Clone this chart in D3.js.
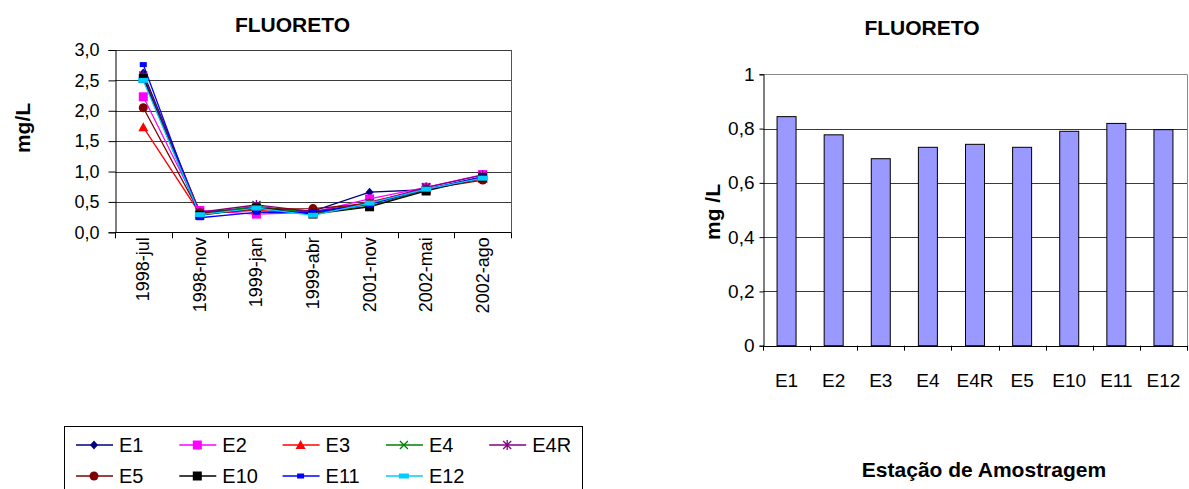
<!DOCTYPE html>
<html>
<head>
<meta charset="utf-8">
<script src="https://cdn.jsdelivr.net/npm/d3@7"></script>
<style>
  html, body { margin: 0; padding: 0; background: #fff; }
  svg { display: block; font-family: "Liberation Sans", Arial, sans-serif; }
</style>
</head>
<body>
<svg id="chart" width="1189" height="489"></svg>
<script>
// Sampling campaigns (left chart categories)
const campaigns = ["1998-jul", "1998-nov", "1999-jan", "1999-abr", "2001-nov", "2002-mai", "2002-ago"];

// Fluoride concentration (mg/L) per station and campaign
const E1  = [2.62, 0.33, 0.40, 0.35, 0.66, 0.70, 0.91];
const E2  = [2.23, 0.36, 0.30, 0.33, 0.55, 0.74, 0.95];
const E3  = [1.73, 0.31, 0.36, 0.31, 0.50, 0.71, 0.88];
const E4  = [2.55, 0.30, 0.43, 0.32, 0.43, 0.70, 0.90];
const E4R = [2.58, 0.33, 0.45, 0.34, 0.48, 0.74, 0.94];
const E5  = [2.05, 0.32, 0.38, 0.39, 0.47, 0.71, 0.86];
const E10 = [2.53, 0.28, 0.40, 0.30, 0.42, 0.68, 0.90];
const E11 = [2.76, 0.24, 0.33, 0.33, 0.46, 0.71, 0.91];
const E12 = [2.50, 0.29, 0.40, 0.28, 0.48, 0.71, 0.89];

// Stations (right chart categories) and their mean concentration (mg/L)
const stations = ["E1", "E2", "E3", "E4", "E4R", "E5", "E10", "E11", "E12"];
const meanValues = [0.844, 0.777, 0.689, 0.731, 0.742, 0.731, 0.790, 0.819, 0.796];

// Axis ticks
const lineTicks = [0, 0.5, 1.0, 1.5, 2.0, 2.5, 3.0];
const barTicks = [0, 0.2, 0.4, 0.6, 0.8, 1];

// Series styling
const seriesList = [
  { name: "E1",  values: E1,  color: "#000080", marker: "diamond" },
  { name: "E2",  values: E2,  color: "#FF00FF", marker: "square" },
  { name: "E3",  values: E3,  color: "#FF0000", marker: "triangle" },
  { name: "E4",  values: E4,  color: "#008000", marker: "cross" },
  { name: "E4R", values: E4R, color: "#800080", marker: "asterisk" },
  { name: "E5",  values: E5,  color: "#800000", marker: "circle" },
  { name: "E10", values: E10, color: "#000000", marker: "square" },
  { name: "E11", values: E11, color: "#0000FF", marker: "smallrect" },
  { name: "E12", values: E12, color: "#00CCFF", marker: "widerect" }
];

const comma = s => String(s).replace(".", ",");
const svg = d3.select("#chart");

// Draws a marker of the given kind centred at (0,0)
function drawMarker(g, kind, color) {
  switch (kind) {
    case "diamond":
      g.append("path").attr("d", "M0,-4.5L4,0L0,4.5L-4,0Z").attr("fill", color);
      break;
    case "square":
      g.append("rect").attr("x", -4.5).attr("y", -4.5).attr("width", 9).attr("height", 9).attr("fill", color);
      break;
    case "triangle":
      g.append("path").attr("d", "M0,-5L5,4L-5,4Z").attr("fill", color);
      break;
    case "cross":
      g.append("path").attr("d", "M-4,-4L4,4M-4,4L4,-4").attr("stroke", color).attr("stroke-width", 1.3).attr("fill", "none");
      break;
    case "asterisk":
      g.append("path").attr("d", "M-4,-4L4,4M-4,4L4,-4M0,-5L0,5").attr("stroke", color).attr("stroke-width", 1.3).attr("fill", "none");
      break;
    case "circle":
      g.append("circle").attr("r", 4.5).attr("fill", color);
      break;
    case "smallrect":
      g.append("rect").attr("x", -3.5).attr("y", -2.5).attr("width", 7).attr("height", 5).attr("fill", color);
      break;
    case "widerect":
      g.append("rect").attr("x", -5).attr("y", -2.5).attr("width", 10).attr("height", 5).attr("fill", color);
      break;
  }
}

// ---------- Left: line chart by campaign ----------
{
  const L = { left: 115, right: 511, top: 50, bottom: 232.3 };
  const x = d3.scaleBand().domain(campaigns).range([L.left, L.right]);
  const y = d3.scaleLinear().domain([0, 3]).range([L.bottom, L.top]);
  const g = svg.append("g");

  // Gridlines
  g.append("g").selectAll("line").data(lineTicks.filter(t => t > 0)).join("line")
    .attr("x1", L.left).attr("x2", L.right)
    .attr("y1", d => Math.round(y(d)) + 0.5).attr("y2", d => Math.round(y(d)) + 0.5)
    .attr("stroke", "#3a3a3a").attr("stroke-width", 1);
  // Right border
  g.append("line").attr("x1", L.right + 0.5).attr("x2", L.right + 0.5)
    .attr("y1", L.top).attr("y2", L.bottom).attr("stroke", "#555");

  // Y axis
  const yAxis = g.append("g").attr("transform", `translate(${L.left + 0.5},0)`)
    .call(d3.axisLeft(y).tickValues(lineTicks).tickSize(7).tickPadding(9)
      .tickFormat(d => comma(d3.format(".1f")(d))));
  yAxis.select(".domain").attr("stroke", "#000");
  yAxis.selectAll("text").attr("font-size", 18).attr("fill", "#000")
    .attr("font-family", "Liberation Sans, Arial, sans-serif");

  // X axis: ticks between categories, rotated labels
  const xb = g.append("g");
  xb.append("line").attr("x1", L.left).attr("x2", L.right)
    .attr("y1", Math.round(L.bottom) + 0.5).attr("y2", Math.round(L.bottom) + 0.5).attr("stroke", "#000");
  xb.selectAll("line.tk").data(d3.range(campaigns.length + 1)).join("line").attr("class", "tk")
    .attr("x1", i => Math.round(L.left + i * x.step()) + 0.5)
    .attr("x2", i => Math.round(L.left + i * x.step()) + 0.5)
    .attr("y1", L.bottom).attr("y2", L.bottom + 6).attr("stroke", "#000");
  xb.selectAll("text").data(campaigns).join("text")
    .attr("transform", d => `translate(${x(d) + x.bandwidth() / 2},${L.bottom + 5}) rotate(-90)`)
    .attr("text-anchor", "end").attr("dominant-baseline", "central")
    .attr("font-size", 18).text(d => d);

  // Lines and markers
  const line = d3.line().x((d, i) => x(campaigns[i]) + x.bandwidth() / 2).y(d => y(d));
  seriesList.forEach(s => {
    g.append("path").datum(s.values).attr("d", line)
      .attr("fill", "none").attr("stroke", s.color).attr("stroke-width", 1.3);
  });
  seriesList.forEach(s => {
    s.values.forEach((v, i) => {
      const m = g.append("g").attr("transform", `translate(${x(campaigns[i]) + x.bandwidth() / 2},${y(v)})`);
      drawMarker(m, s.marker, s.color);
    });
  });

  // Titles
  g.append("text").attr("x", 292.5).attr("y", 31.5).attr("text-anchor", "middle")
    .attr("font-size", 21).attr("font-weight", "bold").text("FLUORETO");
  g.append("text").attr("transform", "translate(22,128) rotate(-90)")
    .attr("text-anchor", "middle").attr("dominant-baseline", "central")
    .attr("font-size", 21).attr("font-weight", "bold").text("mg/L");

  // Legend
  const lg = g.append("g");
  lg.append("rect").attr("x", 64.5).attr("y", 426.5).attr("width", 518).attr("height", 80)
    .attr("fill", "#fff").attr("stroke", "#000");
  seriesList.forEach((s, i) => {
    const col = i % 5, row = Math.floor(i / 5);
    const lx = 76 + col * 103.3, ly = 445 + row * 31;
    lg.append("line").attr("x1", lx).attr("x2", lx + 37).attr("y1", ly).attr("y2", ly)
      .attr("stroke", s.color).attr("stroke-width", 1.3);
    drawMarker(lg.append("g").attr("transform", `translate(${lx + 18},${ly})`), s.marker, s.color);
    lg.append("text").attr("x", lx + 43).attr("y", ly).attr("dominant-baseline", "central")
      .attr("font-size", 20).text(s.name);
  });
}

// ---------- Right: bar chart by station ----------
{
  const R = { left: 763, right: 1187, top: 74.3, bottom: 345.7 };
  const x = d3.scaleBand().domain(stations).range([R.left, R.right]).paddingInner(0.6).paddingOuter(0.3);
  const xs = d3.scaleBand().domain(stations).range([R.left, R.right]);
  const y = d3.scaleLinear().domain([0, 1]).range([R.bottom, R.top]);
  const g = svg.append("g");

  // Gridlines and plot border
  g.append("g").selectAll("line").data(barTicks.filter(t => t > 0)).join("line")
    .attr("x1", R.left).attr("x2", R.right)
    .attr("y1", d => Math.round(y(d)) + 0.5).attr("y2", d => Math.round(y(d)) + 0.5)
    .attr("stroke", d => d === 1 ? "#888" : "#3a3a3a");
  g.append("line").attr("x1", R.right + 0.5).attr("x2", R.right + 0.5)
    .attr("y1", R.top).attr("y2", R.bottom).attr("stroke", "#888");

  // Bars
  g.append("g").selectAll("rect").data(stations).join("rect")
    .attr("x", (d, i) => xs(d) + xs.bandwidth() / 2 - 9.5)
    .attr("width", 19)
    .attr("y", (d, i) => y(meanValues[i]))
    .attr("height", (d, i) => y(0) - y(meanValues[i]))
    .attr("fill", "#9999FF").attr("stroke", "#000").attr("stroke-width", 1);

  // Y axis
  const yAxis = g.append("g").attr("transform", `translate(${R.left + 0.5},0)`)
    .call(d3.axisLeft(y).tickValues(barTicks).tickSize(4).tickPadding(5).tickFormat(d => comma(d)));
  yAxis.select(".domain").attr("stroke", "#000");
  yAxis.selectAll("text").attr("font-size", 19).attr("fill", "#000")
    .attr("font-family", "Liberation Sans, Arial, sans-serif");

  // X axis
  const xb = g.append("g");
  xb.append("line").attr("x1", R.left).attr("x2", R.right + 1)
    .attr("y1", Math.round(R.bottom) + 0.5).attr("y2", Math.round(R.bottom) + 0.5).attr("stroke", "#000");
  xb.selectAll("line.tk").data(d3.range(stations.length + 1)).join("line").attr("class", "tk")
    .attr("x1", i => Math.round(R.left + i * xs.step()) + 0.5)
    .attr("x2", i => Math.round(R.left + i * xs.step()) + 0.5)
    .attr("y1", R.bottom).attr("y2", R.bottom + 5).attr("stroke", "#000");
  xb.selectAll("text").data(stations).join("text")
    .attr("x", d => xs(d) + xs.bandwidth() / 2).attr("y", 386.7)
    .attr("text-anchor", "middle").attr("font-size", 19).text(d => d);

  // Titles
  g.append("text").attr("x", 922).attr("y", 35).attr("text-anchor", "middle")
    .attr("font-size", 21).attr("font-weight", "bold").text("FLUORETO");
  g.append("text").attr("transform", "translate(712,212) rotate(-90)")
    .attr("text-anchor", "middle").attr("dominant-baseline", "central")
    .attr("font-size", 21).attr("font-weight", "bold").text("mg /L");
  g.append("text").attr("x", 984).attr("y", 476.5).attr("text-anchor", "middle")
    .attr("font-size", 21).attr("font-weight", "bold").text("Estação de Amostragem");
}
</script>
</body>
</html>
